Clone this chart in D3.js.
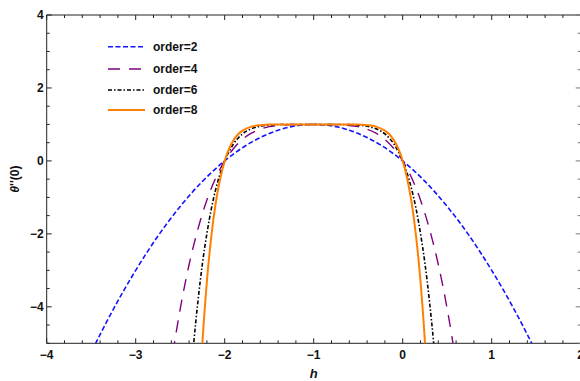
<!DOCTYPE html>
<html>
<head>
<meta charset="utf-8">
<script src="https://cdn.jsdelivr.net/npm/d3@7"></script>
<style>
  body { margin: 0; background: #fff; }
  svg { display: block; font-family: "Liberation Sans", Arial, sans-serif; }
  .tick-label { font-size: 12px; font-weight: bold; fill: #111; }
  .legend-text { font-size: 12px; font-weight: bold; fill: #111; }
</style>
</head>
<body>
<div id="chart"></div>
<script>
// h-curves for theta''(0)
const h2 = [-3.6, -3.5, -3.25, -3, -2.75, -2.5, -2.25, -2, -1.75, -1.5, -1.25, -1, -0.75, -0.5, -0.25, 0, 0.25, 0.5, 0.75, 1, 1.25, 1.5, 1.6];
const y2 = [-5.76, -5.25, -4.06, -3, -2.06, -1.25, -0.56, 0, 0.44, 0.75, 0.94, 1, 0.94, 0.75, 0.44, 0, -0.56, -1.25, -2.06, -3, -4.06, -5.25, -5.76];

const h4 = [-2.65, -2.6, -2.5, -2.4, -2.3, -2.2, -2.1, -2, -1.9, -1.8, -1.7, -1.6, -1.5, -1.4, -1.3, -1.2, -1, -0.8, -0.7, -0.6, -0.5, -0.4, -0.3, -0.2, -0.1, 0, 0.1, 0.2, 0.3, 0.4, 0.5, 0.6, 0.65];
const y4 = [-6.41, -5.55, -4.06, -2.84, -1.86, -1.07, -0.46, 0, 0.34, 0.59, 0.76, 0.87, 0.94, 0.97, 0.99, 1, 1, 1, 0.99, 0.97, 0.94, 0.87, 0.76, 0.59, 0.34, 0, -0.46, -1.07, -1.86, -2.84, -4.06, -5.55, -6.41];

const h6 = [-2.4, -2.35, -2.3, -2.25, -2.2, -2.15, -2.1, -2.05, -2, -1.95, -1.9, -1.85, -1.8, -1.7, -1.6, -1.5, -1.4, -1.2, -1, -0.8, -0.6, -0.5, -0.4, -0.3, -0.2, -0.15, -0.1, -0.05, 0, 0.05, 0.1, 0.15, 0.2, 0.25, 0.3, 0.35, 0.4];
const y6 = [-6.53, -5.05, -3.83, -2.81, -1.99, -1.31, -0.77, -0.34, 0, 0.26, 0.47, 0.62, 0.74, 0.88, 0.95, 0.98, 1, 1, 1, 1, 1, 0.98, 0.95, 0.88, 0.74, 0.62, 0.47, 0.26, 0, -0.34, -0.77, -1.31, -1.99, -2.81, -3.83, -5.05, -6.53];

const h8 = [-2.3, -2.25, -2.2, -2.15, -2.1, -2.05, -2, -1.95, -1.9, -1.85, -1.8, -1.7, -1.6, -1.5, -1.4, -1.2, -1, -0.8, -0.6, -0.5, -0.4, -0.3, -0.2, -0.15, -0.1, -0.05, 0, 0.05, 0.1, 0.15, 0.2, 0.25, 0.3];
const y8 = [-7.16, -4.96, -3.3, -2.06, -1.14, -0.48, 0, 0.34, 0.57, 0.73, 0.83, 0.94, 0.98, 1, 1, 1, 1, 1, 1, 1, 0.98, 0.94, 0.83, 0.73, 0.57, 0.34, 0, -0.48, -1.14, -2.06, -3.3, -4.96, -7.16];

const seriesNames = ["order=2", "order=4", "order=6", "order=8"];
const seriesH = [h2, h4, h6, h8];
const seriesY = [y2, y4, y6, y8];
const seriesColors = ["#1414ff", "#800080", "#000000", "#ff8000"];
const seriesDash = ["5,2.5", "12,9", "4,2,1.5,2", null];
const seriesWidth = [1.6, 1.4, 1.6, 2];

const xTicks = [-4, -3, -2, -1, 0, 1, 2];
const yTicks = [-4, -2, 0, 2, 4];

const W = 580, H = 381;
const x = d3.scaleLinear().domain([-4, 2]).range([46.7, 580.7]);
const y = d3.scaleLinear().domain([-5, 4]).range([343.3, 15]);

const svg = d3.select("#chart").append("svg").attr("width", W).attr("height", H);

svg.append("defs").append("clipPath").attr("id", "plot-clip")
  .append("rect")
  .attr("x", x(-4)).attr("y", y(4))
  .attr("width", x(2) - x(-4)).attr("height", y(-5) - y(4));

// frame
const frame = svg.append("g");
frame.append("line").attr("x1", x(-4)).attr("x2", x(2)).attr("y1", y(-5)).attr("y2", y(-5)).attr("stroke", "#222").attr("stroke-width", 1);
frame.append("line").attr("x1", x(-4)).attr("x2", x(-4)).attr("y1", y(4)).attr("y2", y(-5)).attr("stroke", "#222").attr("stroke-width", 1);
frame.append("line").attr("x1", x(-4)).attr("x2", x(2)).attr("y1", y(4)).attr("y2", y(4)).attr("stroke", "#222").attr("stroke-width", 1);
frame.append("line").attr("x1", x(2)).attr("x2", x(2)).attr("y1", y(4)).attr("y2", y(-5)).attr("stroke", "#777").attr("stroke-width", 1);

// ticks, pointing into the frame
const xMinor = d3.range(-4, 2.001, 0.2).map(v => +v.toFixed(1));
const yMinor = d3.range(-5, 4.001, 0.5);
const ticks = svg.append("g").attr("stroke-width", 1);
xMinor.forEach(v => {
  const major = Math.abs(v - Math.round(v)) < 1e-6;
  const len = major ? 5 : 3;
  ticks.append("line").attr("x1", x(v)).attr("x2", x(v)).attr("y1", y(-5)).attr("y2", y(-5) - len).attr("stroke", "#222");
  ticks.append("line").attr("x1", x(v)).attr("x2", x(v)).attr("y1", y(4)).attr("y2", y(4) + len).attr("stroke", "#222");
});
yMinor.forEach(v => {
  const major = yTicks.includes(v);
  const len = major ? 5 : 3;
  ticks.append("line").attr("x1", x(-4)).attr("x2", x(-4) + len).attr("y1", y(v)).attr("y2", y(v)).attr("stroke", "#222");
  ticks.append("line").attr("x1", x(2)).attr("x2", x(2) - len).attr("y1", y(v)).attr("y2", y(v)).attr("stroke", "#777");
});

// tick labels
const fmt = v => (v < 0 ? "\u2212" + Math.abs(v) : String(v));
svg.append("g").selectAll("text").data(xTicks).enter().append("text")
  .attr("class", "tick-label")
  .attr("x", d => x(d)).attr("y", y(-5) + 16)
  .attr("text-anchor", "middle")
  .text(fmt);
svg.append("g").selectAll("text").data(yTicks).enter().append("text")
  .attr("class", "tick-label")
  .attr("x", x(-4) - 3).attr("y", d => y(d)).attr("dy", "0.36em")
  .attr("text-anchor", "end")
  .text(fmt);

// axis titles
svg.append("text").attr("class", "tick-label")
  .attr("x", x(-1)).attr("y", 378)
  .attr("text-anchor", "middle")
  .style("font-style", "italic").style("font-size", "13px")
  .text("h");
svg.append("text").attr("class", "tick-label")
  .attr("transform", `translate(19,${(y(4) + y(-5)) / 2}) rotate(-90)`)
  .attr("text-anchor", "middle")
  .style("font-size", "12px")
  .html('<tspan font-style="italic">θ</tspan>\'\'(0)');

// curves
const line = d3.line().x(d => x(d[0])).y(d => y(d[1])).curve(d3.curveMonotoneX);
const plot = svg.append("g").attr("clip-path", "url(#plot-clip)");
seriesNames.forEach((name, i) => {
  const pts = seriesH[i].map((hv, j) => [hv, seriesY[i][j]]);
  plot.append("path")
    .datum(pts)
    .attr("d", line)
    .attr("fill", "none")
    .attr("stroke", seriesColors[i])
    .attr("stroke-width", seriesWidth[i])
    .attr("stroke-dasharray", seriesDash[i]);
});

// legend
const legend = svg.append("g");
const legendY = [46.7, 69, 90, 110];
seriesNames.forEach((name, i) => {
  legend.append("line")
    .attr("x1", 108).attr("x2", 145)
    .attr("y1", legendY[i]).attr("y2", legendY[i])
    .attr("stroke", seriesColors[i])
    .attr("stroke-width", seriesWidth[i])
    .attr("stroke-dasharray", seriesDash[i]);
  legend.append("text").attr("class", "legend-text")
    .attr("x", 153).attr("y", legendY[i]).attr("dy", "0.36em")
    .text(name);
});
</script>
</body>
</html>
